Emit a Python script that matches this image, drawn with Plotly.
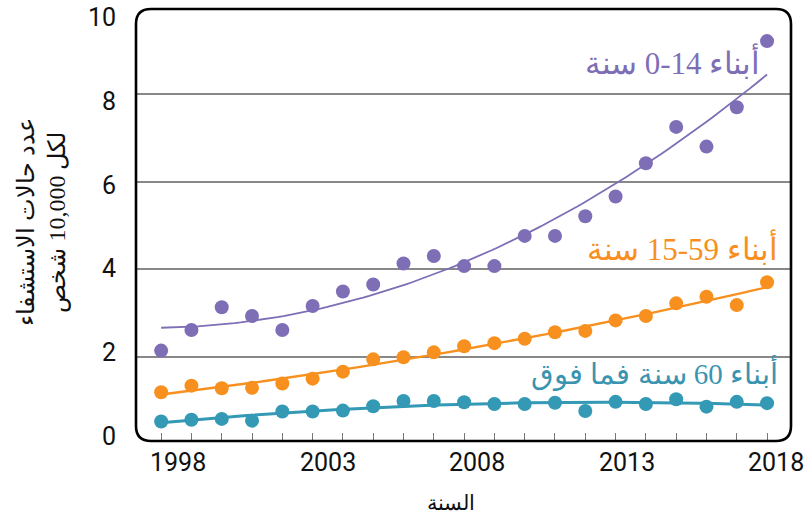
import numpy as np
import plotly.graph_objects as go

years = list(range(1998, 2019))
kids_0_14 = [2.14, 2.61, 3.13, 2.93, 2.61, 3.16, 3.49, 3.65, 4.13, 4.30, 4.07,
             4.07, 4.76, 4.76, 5.21, 5.66, 6.42, 7.25, 6.80, 7.70, 9.21]
adults_15_59 = [1.19, 1.34, 1.28, 1.29, 1.39, 1.50, 1.66, 1.94, 1.99, 2.10, 2.24,
                2.31, 2.41, 2.56, 2.59, 2.83, 2.93, 3.22, 3.37, 3.18, 3.70]
seniors_60 = [0.52, 0.56, 0.58, 0.54, 0.75, 0.75, 0.77, 0.87, 0.99, 0.99, 0.96,
              0.92, 0.92, 0.95, 0.76, 0.97, 0.92, 1.03, 0.86, 0.97, 0.94]

LRI, PDI = "\u2066", "\u2069"
series_names = ["أبناء " + LRI + "0-14" + PDI + " سنة",
                "أبناء " + LRI + "15-59" + PDI + " سنة",
                "أبناء 60 سنة فما فوق"]
x_tick_labels = ["1998", "2003", "2008", "2013", "2018"]
y_tick_values = [0, 2, 4, 6, 8, 10]
y_title = "عدد حالات الاستشفاء<br>لكل 10,000 شخص"
x_title = "السنة"

PURPLE = "#7E6EB6"
ORANGE = "#F7901E"
TEAL = "#3399B5"

W, H = 805, 518
ML, MR, MT, MB = 136, 14, 9, 77
PW, PH = W - ML - MR, H - MT - MB

fig = go.Figure()
xs = np.array(years, dtype=float)
xfit = np.linspace(xs.min(), xs.max(), 100)
for vals, col, lw in [(kids_0_14, PURPLE, 1.8), (adults_15_59, ORANGE, 2.4), (seniors_60, TEAL, 3)]:
    coef = np.polyfit(xs - 2008, np.array(vals), 2)
    fig.add_trace(go.Scatter(x=xfit.tolist(), y=np.polyval(coef, xfit - 2008).tolist(),
                             mode="lines", line=dict(color=col, width=lw),
                             hoverinfo="skip", showlegend=False))
    fig.add_trace(go.Scatter(x=years, y=vals, mode="markers",
                             marker=dict(color=col, size=14), showlegend=False))

fig.update_layout(
    width=W, height=H, margin=dict(l=ML, r=MR, t=MT, b=MB, autoexpand=False),
    paper_bgcolor="white", plot_bgcolor="white", showlegend=False,
    xaxis=dict(range=[1997.17, 2018.79], tickvals=years, showticklabels=False,
               ticks="inside", ticklen=8, tickwidth=1.3, tickcolor="#777",
               showline=False, showgrid=False, zeroline=False),
    yaxis=dict(range=[0.0754, 9.943], tickvals=[2, 4, 6, 8], showticklabels=False,
               showgrid=True, gridcolor="#888", gridwidth=1.5, zeroline=False,
               showline=False, ticks=""),
)

tick_font = dict(family="Roboto", size=25, color="#111")
# y tick labels
for v in y_tick_values:
    py = 17.3 + (10 - v) * 41.94
    fig.add_annotation(text=str(v), x=(118 - ML) / PW, y=(441 - py) / PH,
                       xref="paper", yref="paper", xanchor="right", yanchor="middle",
                       showarrow=False, font=tick_font)
# x tick labels
for lab in x_tick_labels:
    px = 178 + (int(lab) - 1998) * 29.9
    fig.add_annotation(text=lab, x=(px - ML) / PW, y=(441 - 463) / PH,
                       xref="paper", yref="paper", xanchor="center", yanchor="middle",
                       showarrow=False, font=tick_font)

rx, ry = 15 / PW, 15 / PH
path = (f"M {rx},0 L {1-rx},0 Q 1,0 1,{ry} L 1,{1-ry} Q 1,1 {1-rx},1 "
        f"L {rx},1 Q 0,1 0,{1-ry} L 0,{ry} Q 0,0 {rx},0 Z")
fig.add_shape(type="path", path=path, xref="paper", yref="paper",
              line=dict(color="black", width=2.6), layer="above")

label_font = "Liberation Serif, Times New Roman, serif"
fig.add_annotation(text=series_names[0], x=(762 - ML) / PW, y=(441 - 62) / PH,
                   xref="paper", yref="paper", xanchor="right", yanchor="middle",
                   showarrow=False, font=dict(family=label_font, size=31, color=PURPLE))
fig.add_annotation(text=series_names[1], x=(780 - ML) / PW, y=(441 - 248) / PH,
                   xref="paper", yref="paper", xanchor="right", yanchor="middle",
                   showarrow=False, font=dict(family=label_font, size=31, color=ORANGE))
fig.add_annotation(text=series_names[2], x=(780 - ML) / PW, y=(441 - 373) / PH,
                   xref="paper", yref="paper", xanchor="right", yanchor="middle",
                   showarrow=False, font=dict(family=label_font, size=29, color="#3A94B0"))

fig.add_annotation(text=y_title, x=(42 - ML) / PW, y=(441 - 222) / PH,
                   xref="paper", yref="paper", xanchor="center", yanchor="middle",
                   textangle=-90, showarrow=False,
                   font=dict(family=label_font, size=24, color="#111"))
fig.add_annotation(text=x_title, x=(451 - ML) / PW, y=(441 - 503) / PH,
                   xref="paper", yref="paper", xanchor="center", yanchor="middle",
                   showarrow=False, font=dict(family=label_font, size=21, color="#111"))

fig.write_html("out.html", config={"displayModeBar": False},
               post_script="document.body.style.margin='0';")
